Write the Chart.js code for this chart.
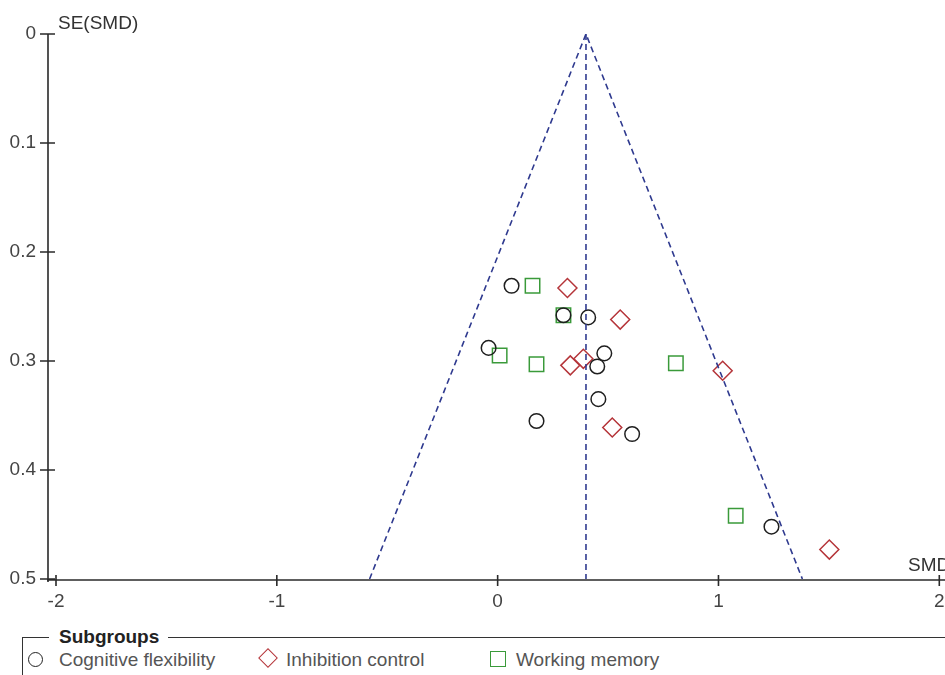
<!DOCTYPE html>
<html>
<head>
<meta charset="utf-8">
<script src="https://cdn.jsdelivr.net/npm/chart.js"></script>
<style>
body { margin: 0; background: #fff; width: 945px; height: 675px; overflow: hidden; position: relative;
       font-family: "Liberation Sans", Arial, sans-serif; color: #444; }
#wrap { position: absolute; left: 0; top: 0; width: 951px; height: 615px; }
.lbl { position: absolute; font-size: 19px; line-height: 22px; white-space: nowrap; color: #333; }
#legend { position: absolute; left: 22px; top: 637px; width: 940px; height: 50px;
          border-left: 1.5px solid #333; border-top: 1.5px solid #333; }
#legend .title { position: absolute; left: 26px; top: -12px; background: #fff; padding: 0 9px 0 10px;
                 font-weight: bold; font-size: 19px; line-height: 22px; color: #222; }
.item { position: absolute; top: 11px; font-size: 19px; line-height: 22px; color: #555; white-space: nowrap; }
.ico { position: absolute; box-sizing: border-box; }
</style>
</head>
<body>
<div id="wrap"><canvas id="funnel"></canvas></div>
<div class="lbl" style="left:58px;top:12px;">SE(SMD)</div>
<div class="lbl" style="left:908px;top:554px;">SMD</div>
<div id="legend">
  <div class="title">Subgroups</div>
  <div class="ico" style="left:5px;top:14px;width:15px;height:15px;border:1.5px solid #222;border-radius:50%;"></div>
  <div class="item" style="left:36px;">Cognitive flexibility</div>
  <div class="ico" style="left:238px;top:13px;width:14px;height:14px;border:1.5px solid #b5353a;transform:rotate(45deg);"></div>
  <div class="item" style="left:263px;">Inhibition control</div>
  <div class="ico" style="left:467px;top:13px;width:16px;height:16px;border:1.5px solid #3a9a3a;"></div>
  <div class="item" style="left:493px;">Working memory</div>
</div>
<script>
// Cognitive flexibility (circles)
var cogX = [0.063, 0.410, -0.041, 0.483, 0.451, 0.456, 0.176, 0.609, 1.240, 0.298];
var cogY = [0.231, 0.260, 0.288, 0.293, 0.305, 0.335, 0.355, 0.367, 0.452, 0.258];
// Inhibition control (diamonds)
var inhX = [0.316, 0.555, 0.388, 0.329, 1.019, 0.519, 1.502];
var inhY = [0.233, 0.262, 0.298, 0.304, 0.309, 0.361, 0.473];
// Working memory (squares)
var wmX = [0.158, 0.298, 0.009, 0.176, 0.807, 1.078];
var wmY = [0.231, 0.258, 0.295, 0.303, 0.302, 0.442];

// funnel: bottom-left corner, apex, bottom-right corner, plus the centre line
var funnelX = [-0.58, 0.40, 1.38];
var funnelY = [0.5, 0, 0.5];
var centreX = [0.40, 0.40];
var centreY = [0, 0.5];

var xTicks = [-2, -1, 0, 1, 2];
var yTicks = [0, 0.1, 0.2, 0.3, 0.4, 0.5];

function pts(xs, ys) {
    var out = [];
    for (var i = 0; i < xs.length; i++) {
        out.push({ x: xs[i], y: ys[i] });
    }
    return out;
}

//axis lines + the little cross ticks (y axis sits a bit left of x = -2)
var axesPlugin = {
    id: 'axesPlugin',
    afterDraw: function (chart) {
        var ctx = chart.ctx;
        var xs = chart.scales.x, ys = chart.scales.y;
        var area = chart.chartArea;
        var yAxisX = area.left - 8;
        var xAxisY = area.bottom + 1;
        ctx.save();
        ctx.strokeStyle = '#2a2a2a';
        ctx.lineWidth = 1.6;
        ctx.beginPath();
        ctx.moveTo(yAxisX, area.top);
        ctx.lineTo(yAxisX, xAxisY + 2);
        ctx.moveTo(yAxisX - 1, xAxisY);
        ctx.lineTo(chart.width, xAxisY);
        xTicks.forEach(function (v) {
            var px = xs.getPixelForValue(v);
            ctx.moveTo(px, xAxisY - 5);
            ctx.lineTo(px, xAxisY + 6);
        });
        yTicks.forEach(function (v) {
            var py = ys.getPixelForValue(v);
            ctx.moveTo(yAxisX - 8, py);
            ctx.lineTo(yAxisX + 7, py);
        });
        ctx.stroke();
        ctx.restore();
    }
};

var dash = { borderColor: '#2f3a8f', borderWidth: 1.6, borderDash: [6, 4], pointRadius: 0, showLine: true, fill: false, tension: 0 };

new Chart("funnel", {
    type: 'scatter',
    data: {
        datasets: [
            Object.assign({ label: 'funnel', data: pts(funnelX, funnelY) }, dash),
            Object.assign({ label: 'centre', data: pts(centreX, centreY) }, dash),
            {
                label: 'Cognitive flexibility',
                data: pts(cogX, cogY),
                pointStyle: 'circle',
                pointRadius: 7.3,
                borderColor: '#1f1f1f',
                backgroundColor: 'rgba(0,0,0,0)',
                borderWidth: 1.5
            },
            {
                label: 'Inhibition control',
                data: pts(inhX, inhY),
                pointStyle: 'rectRot',
                pointRadius: 9.5,
                borderColor: '#b5353a',
                backgroundColor: 'rgba(0,0,0,0)',
                borderWidth: 1.5
            },
            {
                label: 'Working memory',
                data: pts(wmX, wmY),
                pointStyle: 'rect',
                pointRadius: 10.2,
                borderColor: '#3a9a3a',
                backgroundColor: 'rgba(0,0,0,0)',
                borderWidth: 1.5
            }
        ]
    },
    options: {
        responsive: true,
        maintainAspectRatio: false,
        animation: false,
        layout: { padding: { top: 34, right: 0, left: 0, bottom: 0 } },
        plugins: { legend: { display: false }, tooltip: { enabled: false } },
        scales: {
            x: {
                type: 'linear',
                min: -2, max: 2,
                afterBuildTicks: function (s) { s.ticks = xTicks.map(function (v) { return { value: v }; }); },
                afterFit: function (s) { s.height = 36; s.paddingLeft = 0; s.paddingRight = 0; },
                grid: { display: false },
                border: { display: false },
                ticks: { color: '#444', font: { family: 'Liberation Sans', size: 19 }, padding: 3, maxRotation: 0 }
            },
            y: {
                type: 'linear',
                reverse: true,
                min: 0, max: 0.5,
                afterBuildTicks: function (s) { s.ticks = yTicks.map(function (v) { return { value: v }; }); },
                afterFit: function (s) { s.width = 56; },
                grid: { display: false },
                border: { display: false },
                ticks: { color: '#444', font: { family: 'Liberation Sans', size: 19 }, padding: 12,
                         callback: function (v) { return String(Math.round(v * 10) / 10); } }
            }
        }
    },
    plugins: [axesPlugin]
});
</script>
</body>
</html>
